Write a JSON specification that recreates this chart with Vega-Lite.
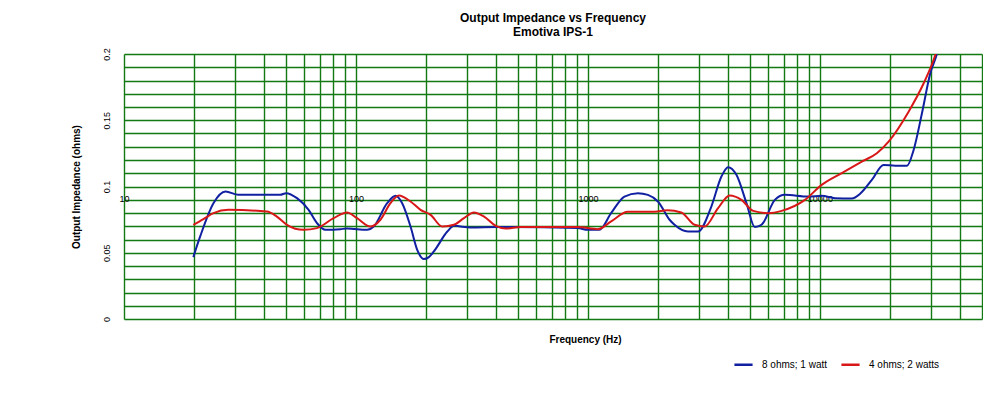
{
  "$schema": "https://vega.github.io/schema/vega-lite/v6.json",
  "description": "Output impedance vs frequency for the Emotiva IPS-1, two load conditions.",
  "autosize": "none",
  "padding": {"left": 124, "top": 54, "right": 1, "bottom": 81},
  "width": 858,
  "height": 265,
  "background": "white",
  "title": {
    "text": "Output Impedance  vs Frequency",
    "subtitle": "Emotiva IPS-1",
    "anchor": "middle",
    "font": "Liberation Sans",
    "fontSize": 12,
    "fontWeight": "bold",
    "subtitleFont": "Liberation Sans",
    "subtitleFontSize": 12,
    "subtitleFontWeight": "bold",
    "subtitleColor": "black",
    "subtitlePadding": 2,
    "color": "black",
    "offset": 9
  },
  "config": {
    "view": {"stroke": null},
    "axis": {
      "gridColor": "#137a13",
      "gridWidth": 1.4,
      "gridOpacity": 1,
      "ticks": false,
      "domain": false,
      "labelFont": "Liberation Sans",
      "labelFontSize": 9,
      "labelColor": "black",
      "titleFont": "Liberation Sans",
      "titleFontSize": 10,
      "titleFontWeight": "bold",
      "titleColor": "black"
    }
  },
  "data": {
    "values": [
      {"series": "8 ohms; 1 watt", "freq": 19.9, "z": 0.0467},
      {"series": "8 ohms; 1 watt", "freq": 21.3, "z": 0.0623},
      {"series": "8 ohms; 1 watt", "freq": 24.3, "z": 0.0874},
      {"series": "8 ohms; 1 watt", "freq": 27.4, "z": 0.0962},
      {"series": "8 ohms; 1 watt", "freq": 31.1, "z": 0.0937},
      {"series": "8 ohms; 1 watt", "freq": 47.1, "z": 0.0937},
      {"series": "8 ohms; 1 watt", "freq": 50.0, "z": 0.095},
      {"series": "8 ohms; 1 watt", "freq": 55.7, "z": 0.0912},
      {"series": "8 ohms; 1 watt", "freq": 62.5, "z": 0.0824},
      {"series": "8 ohms; 1 watt", "freq": 67.9, "z": 0.0724},
      {"series": "8 ohms; 1 watt", "freq": 73.8, "z": 0.0673},
      {"series": "8 ohms; 1 watt", "freq": 85.6, "z": 0.0678},
      {"series": "8 ohms; 1 watt", "freq": 91.5, "z": 0.0683},
      {"series": "8 ohms; 1 watt", "freq": 111.7, "z": 0.0673},
      {"series": "8 ohms; 1 watt", "freq": 119.3, "z": 0.0698},
      {"series": "8 ohms; 1 watt", "freq": 136.3, "z": 0.0874},
      {"series": "8 ohms; 1 watt", "freq": 148.1, "z": 0.093},
      {"series": "8 ohms; 1 watt", "freq": 158.2, "z": 0.0874},
      {"series": "8 ohms; 1 watt", "freq": 171.9, "z": 0.0698},
      {"series": "8 ohms; 1 watt", "freq": 183.7, "z": 0.0522},
      {"series": "8 ohms; 1 watt", "freq": 196.2, "z": 0.0452},
      {"series": "8 ohms; 1 watt", "freq": 206.2, "z": 0.0467},
      {"series": "8 ohms; 1 watt", "freq": 216.7, "z": 0.051},
      {"series": "8 ohms; 1 watt", "freq": 247.7, "z": 0.066},
      {"series": "8 ohms; 1 watt", "freq": 264.5, "z": 0.0703},
      {"series": "8 ohms; 1 watt", "freq": 312.3, "z": 0.0691},
      {"series": "8 ohms; 1 watt", "freq": 407.4, "z": 0.0694},
      {"series": "8 ohms; 1 watt", "freq": 903.4, "z": 0.0686},
      {"series": "8 ohms; 1 watt", "freq": 998, "z": 0.0673},
      {"series": "8 ohms; 1 watt", "freq": 1120, "z": 0.0673},
      {"series": "8 ohms; 1 watt", "freq": 1259, "z": 0.0799},
      {"series": "8 ohms; 1 watt", "freq": 1437, "z": 0.0924},
      {"series": "8 ohms; 1 watt", "freq": 1642, "z": 0.095},
      {"series": "8 ohms; 1 watt", "freq": 1814, "z": 0.0937},
      {"series": "8 ohms; 1 watt", "freq": 2004, "z": 0.0887},
      {"series": "8 ohms; 1 watt", "freq": 2249, "z": 0.0749},
      {"series": "8 ohms; 1 watt", "freq": 2363, "z": 0.0711},
      {"series": "8 ohms; 1 watt", "freq": 2701, "z": 0.066},
      {"series": "8 ohms; 1 watt", "freq": 2984, "z": 0.066},
      {"series": "8 ohms; 1 watt", "freq": 3405, "z": 0.0849},
      {"series": "8 ohms; 1 watt", "freq": 3763, "z": 0.1075},
      {"series": "8 ohms; 1 watt", "freq": 4021, "z": 0.1146},
      {"series": "8 ohms; 1 watt", "freq": 4368, "z": 0.1088},
      {"series": "8 ohms; 1 watt", "freq": 4826, "z": 0.0874},
      {"series": "8 ohms; 1 watt", "freq": 5242, "z": 0.0694},
      {"series": "8 ohms; 1 watt", "freq": 5603, "z": 0.0711},
      {"series": "8 ohms; 1 watt", "freq": 6396, "z": 0.0899},
      {"series": "8 ohms; 1 watt", "freq": 7066, "z": 0.0937},
      {"series": "8 ohms; 1 watt", "freq": 8921, "z": 0.0924},
      {"series": "8 ohms; 1 watt", "freq": 10181, "z": 0.093},
      {"series": "8 ohms; 1 watt", "freq": 11622, "z": 0.0912},
      {"series": "8 ohms; 1 watt", "freq": 13724, "z": 0.0909},
      {"series": "8 ohms; 1 watt", "freq": 14910, "z": 0.0945},
      {"series": "8 ohms; 1 watt", "freq": 16749, "z": 0.105},
      {"series": "8 ohms; 1 watt", "freq": 18826, "z": 0.1163},
      {"series": "8 ohms; 1 watt", "freq": 21126, "z": 0.1156},
      {"series": "8 ohms; 1 watt", "freq": 23728, "z": 0.1156},
      {"series": "8 ohms; 1 watt", "freq": 25363, "z": 0.1276},
      {"series": "8 ohms; 1 watt", "freq": 27548, "z": 0.1553},
      {"series": "8 ohms; 1 watt", "freq": 29923, "z": 0.1855},
      {"series": "8 ohms; 1 watt", "freq": 31990, "z": 0.2005},
      {"series": "8 ohms; 1 watt", "freq": 32630, "z": 0.2068},
      {"series": "4 ohms; 2 watts", "freq": 19.9, "z": 0.0711},
      {"series": "4 ohms; 2 watts", "freq": 22.0, "z": 0.0754},
      {"series": "4 ohms; 2 watts", "freq": 24.3, "z": 0.0799},
      {"series": "4 ohms; 2 watts", "freq": 28.2, "z": 0.0824},
      {"series": "4 ohms; 2 watts", "freq": 41.3, "z": 0.0811},
      {"series": "4 ohms; 2 watts", "freq": 45.6, "z": 0.0773},
      {"series": "4 ohms; 2 watts", "freq": 50.4, "z": 0.0711},
      {"series": "4 ohms; 2 watts", "freq": 59.4, "z": 0.0673},
      {"series": "4 ohms; 2 watts", "freq": 67.9, "z": 0.0686},
      {"series": "4 ohms; 2 watts", "freq": 80.1, "z": 0.0761},
      {"series": "4 ohms; 2 watts", "freq": 91.5, "z": 0.0804},
      {"series": "4 ohms; 2 watts", "freq": 101.1, "z": 0.0761},
      {"series": "4 ohms; 2 watts", "freq": 115.4, "z": 0.0698},
      {"series": "4 ohms; 2 watts", "freq": 127.5, "z": 0.0749},
      {"series": "4 ohms; 2 watts", "freq": 140.8, "z": 0.0874},
      {"series": "4 ohms; 2 watts", "freq": 153.0, "z": 0.0932},
      {"series": "4 ohms; 2 watts", "freq": 171.9, "z": 0.0887},
      {"series": "4 ohms; 2 watts", "freq": 189.8, "z": 0.0824},
      {"series": "4 ohms; 2 watts", "freq": 209.7, "z": 0.0786},
      {"series": "4 ohms; 2 watts", "freq": 235.6, "z": 0.0698},
      {"series": "4 ohms; 2 watts", "freq": 264.5, "z": 0.0711},
      {"series": "4 ohms; 2 watts", "freq": 292.1, "z": 0.0761},
      {"series": "4 ohms; 2 watts", "freq": 322.7, "z": 0.0804},
      {"series": "4 ohms; 2 watts", "freq": 356.6, "z": 0.0773},
      {"series": "4 ohms; 2 watts", "freq": 400.6, "z": 0.0703},
      {"series": "4 ohms; 2 watts", "freq": 442.5, "z": 0.0683},
      {"series": "4 ohms; 2 watts", "freq": 513.7, "z": 0.0694},
      {"series": "4 ohms; 2 watts", "freq": 903.4, "z": 0.0694},
      {"series": "4 ohms; 2 watts", "freq": 1102.6, "z": 0.0678},
      {"series": "4 ohms; 2 watts", "freq": 1259, "z": 0.0736},
      {"series": "4 ohms; 2 watts", "freq": 1486, "z": 0.0809},
      {"series": "4 ohms; 2 watts", "freq": 1937, "z": 0.0809},
      {"series": "4 ohms; 2 watts", "freq": 2200, "z": 0.0821},
      {"series": "4 ohms; 2 watts", "freq": 2527, "z": 0.0804},
      {"series": "4 ohms; 2 watts", "freq": 2884, "z": 0.0711},
      {"series": "4 ohms; 2 watts", "freq": 3185, "z": 0.0698},
      {"series": "4 ohms; 2 watts", "freq": 3641, "z": 0.0837},
      {"series": "4 ohms; 2 watts", "freq": 4087, "z": 0.0932},
      {"series": "4 ohms; 2 watts", "freq": 4590, "z": 0.0899},
      {"series": "4 ohms; 2 watts", "freq": 5158, "z": 0.0816},
      {"series": "4 ohms; 2 watts", "freq": 5989, "z": 0.0799},
      {"series": "4 ohms; 2 watts", "freq": 6838, "z": 0.0816},
      {"series": "4 ohms; 2 watts", "freq": 8623, "z": 0.0899},
      {"series": "4 ohms; 2 watts", "freq": 10181, "z": 0.1012},
      {"series": "4 ohms; 2 watts", "freq": 12430, "z": 0.1101},
      {"series": "4 ohms; 2 watts", "freq": 15166, "z": 0.1188},
      {"series": "4 ohms; 2 watts", "freq": 17606, "z": 0.1251},
      {"series": "4 ohms; 2 watts", "freq": 19781, "z": 0.1339},
      {"series": "4 ohms; 2 watts", "freq": 24131, "z": 0.1565},
      {"series": "4 ohms; 2 watts", "freq": 28021, "z": 0.1779},
      {"series": "4 ohms; 2 watts", "freq": 31447, "z": 0.1992},
      {"series": "4 ohms; 2 watts", "freq": 32310, "z": 0.206}
    ]
  },
  "mark": {"type": "line", "interpolate": "monotone", "strokeWidth": 2, "clip": true},
  "encoding": {
    "x": {
      "field": "freq",
      "type": "quantitative",
      "scale": {"type": "log", "domain": [10, 50000], "nice": false},
      "axis": {
        "title": "Frequency (Hz)",
        "titleX": 461,
        "titleY": 148,
        "titleBaseline": "middle",
        "offset": -128,
        "labelPadding": 3,
        "labelFlush": false,
        "labelOverlap": false,
        "values": [10, 20, 30, 40, 50, 60, 70, 80, 90, 100, 200, 300, 400, 500, 600, 700, 800, 900, 1000, 2000, 3000, 4000, 5000, 6000, 7000, 8000, 9000, 10000, 20000, 30000, 40000, 50000],
        "labelExpr": "indexof([10, 100, 1000, 10000], datum.value) >= 0 ? datum.value + '' : ''"
      }
    },
    "y": {
      "field": "z",
      "type": "quantitative",
      "scale": {"domain": [0, 0.2], "nice": false, "zero": true},
      "axis": {
        "title": "Output Impedance (ohms)",
        "titlePadding": 21,
        "labelAngle": -90,
        "labelAlign": "center",
        "labelBaseline": "bottom",
        "labelPadding": 13,
        "labelOverlap": false,
        "values": [0, 0.01, 0.02, 0.03, 0.04, 0.05, 0.06, 0.07, 0.08, 0.09, 0.1, 0.11, 0.12, 0.13, 0.14, 0.15, 0.16, 0.17, 0.18, 0.19, 0.2],
        "labelExpr": "indexof([0, 0.05, 0.1, 0.15, 0.2], datum.value) >= 0 ? datum.value + '' : ''"
      }
    },
    "color": {
      "field": "series",
      "type": "nominal",
      "scale": {"domain": ["8 ohms; 1 watt", "4 ohms; 2 watts"], "range": ["#1020a0", "#d81818"]},
      "legend": {
        "title": null,
        "orient": "none",
        "direction": "horizontal",
        "legendX": 609,
        "legendY": 300,
        "symbolType": "stroke",
        "symbolSize": 330,
        "symbolStrokeWidth": 2.5,
        "labelFont": "Liberation Sans",
        "labelFontSize": 10,
        "labelColor": "black",
        "columnPadding": 8,
        "labelOffset": 8
      }
    }
  }
}
